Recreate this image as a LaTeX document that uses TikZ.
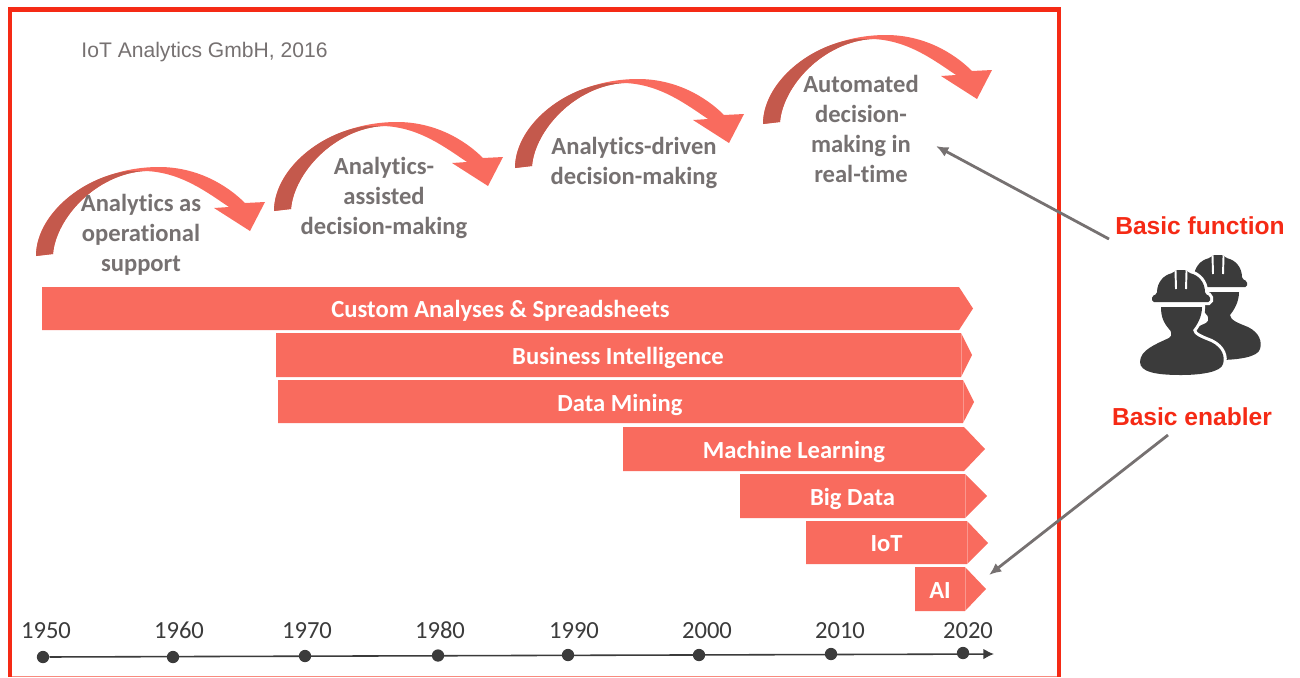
\documentclass[tikz,border=0pt]{standalone}
\usepackage{fontspec}
\setmainfont[RawFeature={-liga;-clig;-calt;-dlig}]{Carlito}
\newfontfamily\arialfont{Liberation Sans}
\usepackage{xcolor}
\usetikzlibrary{positioning,arrows.meta,calc}
\definecolor{barred}{HTML}{F96B5E}
\definecolor{swoopdark}{HTML}{C4594C}
\definecolor{framered}{HTML}{F52A15}
\definecolor{textgray}{HTML}{767171}
\definecolor{axisdark}{HTML}{3B3B3B}

\begin{document}
\begin{tikzpicture}[
            x=0.02cm, y=-0.02cm,
            % Bars and their labels
            barfill/.style={fill=barred},
            barseam/.style={draw=white, opacity=0.3, line width=0.3pt},
            bartext/.style={text=white, font=\fontsize{14}{16}\selectfont\bfseries},
            % Labels under the curved arrows
            steptext/.style={text=textgray, align=center, font=\fontsize{14}{17}\selectfont\bfseries},
            % Axis
            yeardot/.style={circle, fill=axisdark, inner sep=0pt, minimum size=7pt},
            yeartext/.style={anchor=base, text=axisdark, font=\fontsize{14}{16}\selectfont},
            % Grey pointers and red words
            pointer/.style={-{Latex[length=7pt,width=6pt]}, draw=textgray, line width=1.6pt},
            redtext/.style={text=framered, font=\arialfont\fontsize{14}{16}\selectfont\bfseries},
            % Curved arrow, origin at the outer corner of its foot
            swoop/.pic={
                \fill[barred] (0,0) .. controls (0,-45) and (55,-89) .. (123,-89)
                    .. controls (160,-89) and (190,-72) .. (209,-53)
                    -- (229,-54) -- (214,-25) -- (178,-48) -- (193,-49)
                    .. controls (172,-63) and (145,-84) .. (109,-85)
                    .. controls (60,-82) and (20,-38) .. (17,-2) -- cycle;
                \fill[swoopdark] (0,0) .. controls (0,-38) and (42,-78) .. (92,-85)
                    .. controls (98,-85) and (104,-85) .. (109,-85)
                    .. controls (60,-82) and (20,-38) .. (17,-2) -- cycle;
            },
            % One worker, origin at the middle of the lower edge of the brim
            workerfill/.style={fill=axisdark, preaction={draw=white, line width=3.5pt}},
            worker/.pic={
                \path[workerfill, rounded corners=1pt] (-29,0) -- (-29,-6) -- (-24,-8)
                    .. controls (-24,-20) and (-17,-27) .. (-8,-29) -- (-5,-32)
                    -- (5,-32) -- (8,-29) .. controls (17,-27) and (24,-20) .. (24,-8)
                    -- (29,-6) -- (29,0) -- cycle;
                \draw[white, line width=1.1pt] (-5.5,-31) -- (-5,-13);
                \draw[white, line width=1.1pt] (5.5,-31) -- (5,-13);
                \path[workerfill] (-20,5) -- (21,5) .. controls (21,15) and (16,23) .. (12,28)
                    .. controls (12,33) and (20,36) .. (30,40)
                    .. controls (42,46) and (44,55) .. (42,62)
                    .. controls (40,70) and (20,73) .. (0,73)
                    .. controls (-25,73) and (-41,70) .. (-41,60)
                    .. controls (-41,48) and (-25,42) .. (-12,36)
                    .. controls (-8,34) and (-10,28) .. (-12,27)
                    .. controls (-18,20) and (-20,14) .. (-20,5) -- cycle;
            }
        ]
            \useasboundingbox (0,0) rectangle (1300,677);

            % --- 1. FRAME ---
            \draw[framered!55, line width=0.6pt] (10,676.5) -- (1059,676.5);
            \draw[framered, line width=2.6pt] (10,677) -- (10,9.5) -- (1059,9.5) -- (1059,677);
            \node[text=textgray, font=\arialfont\fontsize{12}{14}\selectfont] (source) at (204.5,52) {IoT Analytics GmbH, 2016};

            % --- 2. CURVED ARROWS ---
            \pic at (36,256) {swoop};
            \pic at (274,211) {swoop};
            \pic at (515,168) {swoop};
            \pic at (763,124) {swoop};

            \node[steptext] (support) at (141,235) {Analytics as\\operational\\support};
            \node[steptext] (assisted) at (384,198) {Analytics-\\assisted\\decision-making};
            \node[steptext] (driven) at (634,163) {Analytics-driven\\decision-making};
            \node[steptext] (automated) at (861,129) {Automated\\decision-\\making in\\real-time};

            % --- 3. BARS ---
            \fill[barfill] (42,287) -- (959,287) -- (973,308.5) -- (959,330) -- (42,330) -- cycle;
            \node[bartext] (custom) at (500.5,311) {Custom Analyses \& Spreadsheets};

            \fill[barfill] (276,333) -- (961,333) -- (972,355) -- (961,377) -- (276,377) -- cycle;
            \draw[barseam] (961,333) -- (961,377);
            \node[bartext] (bi) at (618,358) {Business Intelligence};

            \fill[barfill] (278,380) -- (963,380) -- (974,402) -- (963,423) -- (278,423) -- cycle;
            \draw[barseam] (963,380) -- (963,423);
            \node[bartext] (mining) at (620,405) {Data Mining};

            \fill[barfill] (623,427) -- (964,427) -- (985,449) -- (964,471) -- (623,471) -- cycle;
            \node[bartext] (learning) at (794,452) {Machine Learning};

            \fill[barfill] (740,474) -- (965,474) -- (987,496) -- (965,518) -- (740,518) -- cycle;
            \draw[barseam] (965,474) -- (965,518);
            \node[bartext] (bigdata) at (852.5,499) {Big Data};

            \fill[barfill] (806,521) -- (967,521) -- (988,543) -- (967,564) -- (806,564) -- cycle;
            \draw[barseam] (967,521) -- (967,564);
            \node[bartext] (iot) at (886.5,544) {IoT};

            \fill[barfill] (915,567) -- (965,567) -- (986,589) -- (965,611) -- (915,611) -- cycle;
            \draw[barseam] (965,567) -- (965,611);
            \node[bartext] (ai) at (940,591) {AI};

            % --- 4. TIME AXIS ---
            \node[yeardot] (d1950) at (43,657) {};
            \node[yeardot] (d1960) at (173,657) {};
            \node[yeardot] (d1970) at (305,656) {};
            \node[yeardot] (d1980) at (438,655.5) {};
            \node[yeardot] (d1990) at (568,655) {};
            \node[yeardot] (d2000) at (699,655) {};
            \node[yeardot] (d2010) at (831,654) {};
            \node[yeardot] (d2020) at (963,653) {};
            \coordinate (axisend) at (994,654);
            \draw[axisdark, line width=0.9pt, -{Latex[length=6pt,width=6pt]}] (d1950) -- (axisend);

            \node[yeartext] (y1950) at (46,638) {1950};
            \node[yeartext] (y1960) at (179,638) {1960};
            \node[yeartext] (y1970) at (307,638) {1970};
            \node[yeartext] (y1980) at (440,638) {1980};
            \node[yeartext] (y1990) at (574,638) {1990};
            \node[yeartext] (y2000) at (707,638) {2000};
            \node[yeartext] (y2010) at (840,638) {2010};
            \node[yeartext] (y2020) at (968,638) {2020};

            % --- 5. RIGHT SIDE ---
            \node[redtext] (function) at (1200,226) {Basic function};
            \node[redtext] (enabler) at (1192,417) {Basic enabler};

            \pic at (1218,287) {worker};
            \pic at (1181,302) {worker};

            \coordinate (functionfoot) at (1109,239);
            \coordinate (functionhead) at (936,146);
            \draw[pointer] (functionfoot) -- (functionhead);
            \coordinate (enablerfoot) at (1168,435);
            \coordinate (enablerhead) at (989,575);
            \draw[pointer] (enablerfoot) -- (enablerhead);

        \end{tikzpicture}
\end{document}
